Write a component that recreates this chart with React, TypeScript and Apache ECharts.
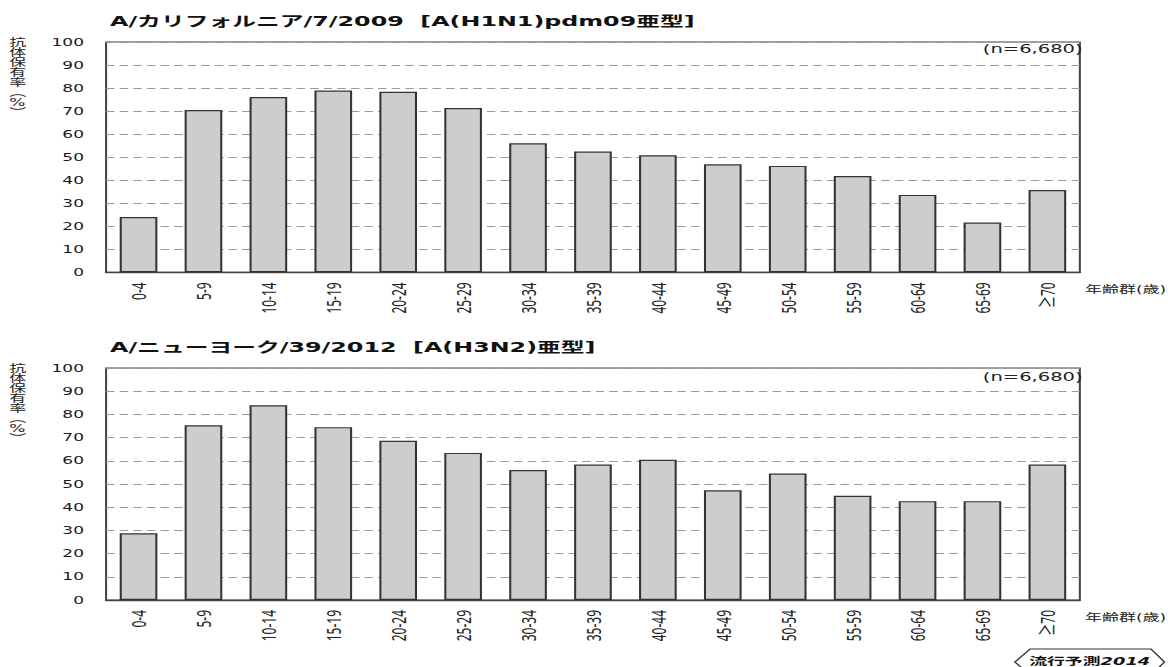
import React, { useEffect, useRef } from "react";
import * as echarts from "echarts";

const categories = ["0-4", "5-9", "10-14", "15-19", "20-24", "25-29", "30-34", "35-39", "40-44", "45-49", "50-54", "55-59", "60-64", "65-69", "≥70"];
const h1n1Values = [24, 70.5, 76.1, 78.9, 78.4, 71.3, 56, 52.4, 50.8, 46.9, 46.2, 41.8, 33.6, 21.6, 35.7];
const h3n2Values = [28.8, 75.3, 83.9, 74.5, 68.6, 63.4, 56, 58.4, 60.4, 47.3, 54.5, 44.9, 42.6, 42.6, 58.4];
const titles = ["A/カリフォルニア/7/2009  [A(H1N1)pdm09亜型]", "A/ニューヨーク/39/2012  [A(H3N2)亜型]"];
const sampleLabel = "(n=6,680)";
const yName = "抗\n体\n保\n有\n率\n︵\n%\n︶";
const xName = "年齢群(歳)";

const STRETCH = 1.7;
const W = 1168 / STRETCH;
const H = 667;
const FONT = "'DejaVu Sans', 'Noto Sans CJK JP', sans-serif";
const LABEL_FONT = "'Noto Sans', 'Noto Sans CJK JP', sans-serif";

export default function App() {
  const ref = useRef<HTMLDivElement>(null);
  useEffect(() => {
    if (!ref.current) return;
    const chart = echarts.init(ref.current, undefined, { renderer: "svg" });
    const gridLeft = 62.4;
    const gridRight = W - 638.8;
    const grids = [
      { left: gridLeft, right: gridRight, top: 42, height: 230.3 },
      { left: gridLeft, right: gridRight, top: 368, height: 232 },
    ].map((g) => ({ ...g, show: true, borderColor: "#444", borderWidth: 1.2, backgroundColor: "#fff" }));

    const xAxes = [0, 1].map((i) => ({
      type: "category",
      gridIndex: i,
      data: categories,
      axisLine: { show: true, lineStyle: { color: "#444", width: 1.4 } },
      axisTick: { show: false },
      axisLabel: { rotate: 90, margin: 10, fontSize: 12, color: "#222", fontFamily: LABEL_FONT, interval: 0 },
      name: xName,
      nameLocation: "end",
      nameGap: 3,
      nameTextStyle: { fontSize: 10, color: "#222", fontFamily: FONT, align: "left", verticalAlign: "top", padding: [12, 0, 0, 0] },
    }));
    const yAxes = [0, 1].map((i) => ({
      type: "value",
      gridIndex: i,
      min: 0,
      max: 100,
      interval: 10,
      axisLine: { show: false },
      axisTick: { show: false },
      axisLabel: { margin: 13, fontSize: 10, color: "#1a1a1a", fontFamily: FONT },
      splitLine: { show: true, lineStyle: { type: [5, 3], color: "#9a9a9a", width: 1 } },
    }));
    const seriesData = [h1n1Values, h3n2Values];
    const series = seriesData.map((d, i) => ({
      type: "bar",
      xAxisIndex: i,
      yAxisIndex: i,
      data: d,
      barWidth: "58%",
      itemStyle: { color: "#cdcdcd", borderColor: "#333", borderWidth: 1.2 },
    }));

    const titleTops = [14, 340];
    const nTops = [43, 371];
    const titleComps: any[] = [];
    titleTops.forEach((t, i) => {
      titleComps.push({ text: titles[i], left: 64.7, top: t, padding: 0, textStyle: { fontSize: 14, fontWeight: "bold", color: "#111", fontFamily: FONT } });
      titleComps.push({ text: sampleLabel, right: W - 637, top: nTops[i], padding: 0, textStyle: { fontSize: 11.5, fontWeight: "normal", color: "#222", fontFamily: FONT } });
      titleComps.push({ text: yName, left: 5.5, top: [37, 363][i], padding: 0, textStyle: { fontSize: 10, lineHeight: 10, fontWeight: "normal", color: "#222", fontFamily: FONT } });
    });

    chart.setOption({
      animation: false,
      backgroundColor: "#fff",
      title: titleComps,
      grid: grids,
      xAxis: xAxes,
      yAxis: yAxes,
      series,
      graphic: [
        {
          type: "polygon",
          shape: { points: [[597, 662], [606, 649], [677, 649], [685, 662], [677, 675], [606, 675]] },
          style: { fill: "#fff", stroke: "#333", lineWidth: 1 },
        },
        {
          type: "text",
          x: 641,
          y: 661,
          style: {
            text: "{a|流行予測}{b|2014}",
            align: "center",
            verticalAlign: "middle",
            rich: {
              a: { fontSize: 10.5, fontWeight: "bold", fill: "#111", fontFamily: FONT },
              b: { fontSize: 10.5, fontWeight: "bold", fontStyle: "italic", fill: "#111", fontFamily: FONT },
            },
          },
        },
      ],
    });
    return () => chart.dispose();
  }, []);
  return (
    <div
      ref={ref}
      style={{ position: "absolute", left: 0, top: 0, width: W, height: H, transform: `scaleX(${STRETCH})`, transformOrigin: "0 0", background: "#fff" }}
    />
  );
}
